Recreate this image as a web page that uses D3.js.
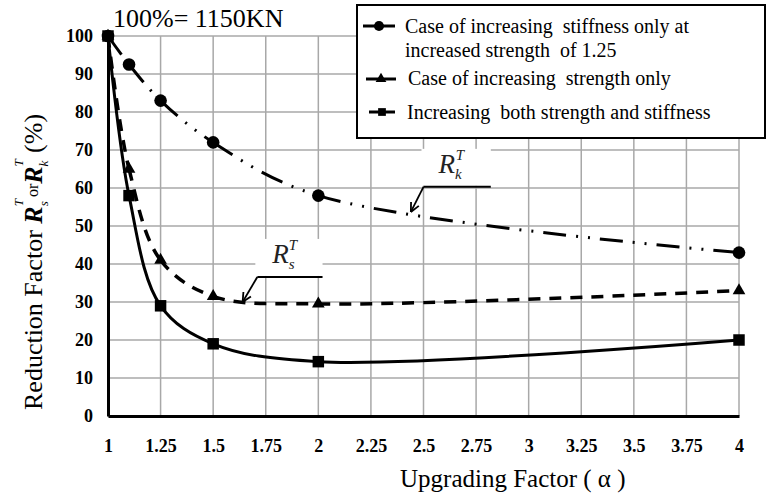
<!DOCTYPE html>
<html>
<head>
<meta charset="utf-8">
<script src="https://cdn.jsdelivr.net/npm/d3@7"></script>
<style>
  body { margin: 0; background: #fff; }
</style>
</head>
<body>
<div class="chart"></div>
<script>
// data
var alphaValues = [1, 1.1, 1.25, 1.5, 2, 4];
var stiffnessOnly = [100, 92.5, 83, 72, 58, 43];
var strengthOnly = [100, 65, 41, 31.5, 29.5, 33];
var bothIncreased = [100, 58, 29, 19, 14.3, 20];

var xTicks = [1, 1.25, 1.5, 1.75, 2, 2.25, 2.5, 2.75, 3, 3.25, 3.5, 3.75, 4];
var xTickLabels = ["1", "1.25", "1.5", "1.75", "2", "2.25", "2.5", "2.75", "3", "3.25", "3.5", "3.75", "4"];
var yTicks = [0, 10, 20, 30, 40, 50, 60, 70, 80, 90, 100];

var legendLabels = [
  ["Case of increasing  stiffness only at", "increased strength  of 1.25"],
  ["Case of increasing  strength only"],
  ["Increasing  both strength and stiffness"]
];

var serif = "'Liberation Serif', 'Times New Roman', serif";

var svgWidth = 767;
var svgHeight = 497;

var margin = {
  top: 36,
  right: 28,
  bottom: 81,
  left: 108
};

var width = svgWidth - margin.left - margin.right;
var height = svgHeight - margin.top - margin.bottom;

var svg = d3.select(".chart")
  .append("svg")
  .attr("width", svgWidth)
  .attr("height", svgHeight);

var chartGroup = svg.append("g")
  .attr("transform", `translate(${margin.left}, ${margin.top})`);

var xScale = d3.scaleLinear().domain([1, 4]).range([0, width]);
var yScale = d3.scaleLinear().domain([0, 100]).range([height, 0]);

// grid
chartGroup.selectAll(".vgrid")
  .data(xTicks)
  .enter()
  .append("line")
  .attr("x1", d => xScale(d))
  .attr("x2", d => xScale(d))
  .attr("y1", 0)
  .attr("y2", height)
  .attr("stroke", "#a8a8a8")
  .attr("stroke-width", 1.5);

chartGroup.selectAll(".hgrid")
  .data(yTicks)
  .enter()
  .append("line")
  .attr("x1", 0)
  .attr("x2", width)
  .attr("y1", d => yScale(d))
  .attr("y2", d => yScale(d))
  .attr("stroke", "#a8a8a8")
  .attr("stroke-width", 1.5);

// axes
var leftAxis = d3.axisLeft(yScale).tickValues(yTicks).tickSize(0).tickPadding(15);
var bottomAxis = d3.axisBottom(xScale).tickValues(xTicks).tickSize(0).tickPadding(23)
  .tickFormat((d, i) => xTickLabels[i]);

var yAxisG = chartGroup.append("g").call(leftAxis);
var xAxisG = chartGroup.append("g")
  .attr("transform", `translate(0, ${height})`)
  .call(bottomAxis);

[xAxisG, yAxisG].forEach(function(g) {
  g.select(".domain").attr("stroke", "#000").attr("stroke-width", 3);
  g.selectAll("text")
    .attr("font-weight", "bold")
    .attr("font-size", "18px")
    .attr("fill", "#000");
});

// annotations R_k^T and R_s^T
var annotations = [
  { sub: "k", lineX: [2.5, 2.82], lineY: 60.3, tip: [2.44, 53.7] },
  { sub: "s", lineX: [1.71, 2.02], lineY: 36.6, tip: [1.64, 30] }
];

annotations.forEach(function(a) {
  var ux0 = xScale(a.lineX[0]), ux1 = xScale(a.lineX[1]), uy = yScale(a.lineY);
  var tx = xScale(a.tip[0]), ty = yScale(a.tip[1]);
  chartGroup.append("rect")
    .attr("x", ux0 - 2)
    .attr("y", uy - 38)
    .attr("width", ux1 - ux0 + 2)
    .attr("height", 37)
    .attr("fill", "#fff");
  chartGroup.append("line")
    .attr("x1", ux0).attr("y1", uy).attr("x2", ux1).attr("y2", uy)
    .attr("stroke", "#000").attr("stroke-width", 2);
  chartGroup.append("line")
    .attr("x1", ux0).attr("y1", uy).attr("x2", tx).attr("y2", ty)
    .attr("stroke", "#000").attr("stroke-width", 1.8);
  // open arrow head
  var ang = Math.atan2(uy - ty, ux0 - tx);
  [-0.45, 0.45].forEach(function(off) {
    chartGroup.append("line")
      .attr("x1", tx).attr("y1", ty)
      .attr("x2", tx + 10 * Math.cos(ang + off))
      .attr("y2", ty + 10 * Math.sin(ang + off))
      .attr("stroke", "#000").attr("stroke-width", 1.8);
  });
  var t = chartGroup.append("text")
    .attr("x", ux0 + 15)
    .attr("y", uy - 14)
    .attr("font-style", "italic")
    .attr("fill", "#222");
  t.append("tspan").attr("font-size", "27px").text("R");
  t.append("tspan").attr("font-size", "15px").attr("dy", 6).text(a.sub);
  t.append("tspan").attr("font-size", "15px").attr("dx", -6).attr("dy", -19).text("T");
});

// series lines, dash pattern restarts at every point like the original
var seriesList = [
  { values: stiffnessOnly, dash: "23,10,2,10,2,10", lw: 3, symbol: d3.symbolCircle, size: 125 },
  { values: strengthOnly, dash: "12,9", lw: 3.5, symbol: d3.symbolTriangle, size: 70 },
  { values: bothIncreased, dash: null, lw: 3, symbol: d3.symbolSquare, size: 132 }
];

function segmentPaths(points) {
  var segs = [];
  var cur;
  var ctx = {
    moveTo: function(x, y) { cur = [x, y]; },
    lineTo: function(x, y) { segs.push(`M${cur[0]},${cur[1]}L${x},${y}`); cur = [x, y]; },
    bezierCurveTo: function(a, b, c, d, x, y) {
      segs.push(`M${cur[0]},${cur[1]}C${a},${b},${c},${d},${x},${y}`);
      cur = [x, y];
    },
    closePath: function() {}
  };
  d3.line()
    .x(d => xScale(d[0]))
    .y(d => yScale(d[1]))
    .curve(d3.curveCatmullRom.alpha(0.5))
    .context(ctx)(points);
  return segs;
}

seriesList.forEach(function(s) {
  var pts = alphaValues.map((a, i) => [a, s.values[i]]);
  chartGroup.append("g")
    .selectAll("path")
    .data(segmentPaths(pts))
    .enter()
    .append("path")
    .attr("d", d => d)
    .attr("fill", "none")
    .attr("stroke", "#000")
    .attr("stroke-width", s.lw)
    .attr("stroke-dasharray", s.dash);
});

seriesList.forEach(function(s) {
  chartGroup.append("g")
    .selectAll("path")
    .data(alphaValues.map((a, i) => [a, s.values[i]]))
    .enter()
    .append("path")
    .attr("transform", d => `translate(${xScale(d[0])}, ${yScale(d[1])})`)
    .attr("d", d3.symbol().type(s.symbol).size(s.size))
    .attr("fill", "#000");
});

// header note
svg.append("text")
  .attr("x", 113)
  .attr("y", 27)
  .attr("font-size", "26px")
  .attr("fill", "#000")
  .text("100%= 1150KN");

// axis titles
svg.append("text")
  .attr("x", 400)
  .attr("y", 487)
  .attr("font-size", "25px")
  .attr("fill", "#000")
  .style("white-space", "pre")
  .text("Upgrading Factor ( \u03b1 )");

var yTitle = svg.append("text")
  .attr("transform", "translate(42, 410) rotate(-90)")
  .attr("fill", "#000")
  .attr("font-size", "26px");
yTitle.append("tspan").text("Reduction Factor ").style("white-space", "pre");
yTitle.append("tspan").attr("font-weight", "bold").attr("font-style", "italic").text("R");
yTitle.append("tspan").attr("font-size", "13px").attr("font-style", "italic").attr("dy", 6).text("s");
yTitle.append("tspan").attr("font-size", "13px").attr("font-style", "italic").attr("dx", -5).attr("dy", -25).text("T");
yTitle.append("tspan").attr("font-size", "16px").attr("dx", 2).attr("dy", 15).text("or");
yTitle.append("tspan").attr("font-weight", "bold").attr("font-style", "italic").attr("dy", 4).text("R");
yTitle.append("tspan").attr("font-size", "13px").attr("font-style", "italic").attr("dy", 6).text("k");
yTitle.append("tspan").attr("font-size", "13px").attr("font-style", "italic").attr("dx", -6).attr("dy", -25).text("T");
yTitle.append("tspan").attr("dy", 19).style("white-space", "pre").text(" (%)");

// legend
var legend = svg.append("g");
legend.append("rect")
  .attr("x", 357)
  .attr("y", 5)
  .attr("width", 408)
  .attr("height", 133)
  .attr("fill", "#fff")
  .attr("stroke", "#000")
  .attr("stroke-width", 2);

var legendRows = [
  { y: 26, x0: 363, x1: 395, textX: 405, baselines: [33, 57], symbol: d3.symbolCircle, size: 80 },
  { y: 79, x0: 366, x1: 396, textX: 408, baselines: [85], symbol: d3.symbolTriangle, size: 50 },
  { y: 112, x0: 369, x1: 395, textX: 407, baselines: [119], symbol: d3.symbolSquare, size: 60 }
];

legendRows.forEach(function(r, i) {
  legend.append("line")
    .attr("x1", r.x0).attr("x2", r.x1).attr("y1", r.y).attr("y2", r.y)
    .attr("stroke", "#000").attr("stroke-width", 3);
  legend.append("path")
    .attr("transform", `translate(${(r.x0 + r.x1) / 2}, ${r.y})`)
    .attr("d", d3.symbol().type(r.symbol).size(r.size))
    .attr("fill", "#000");
  legendLabels[i].forEach(function(line, j) {
    legend.append("text")
      .attr("x", r.textX)
      .attr("y", r.baselines[j])
      .attr("font-size", "20px")
      .attr("fill", "#000")
      .style("white-space", "pre")
      .text(line);
  });
});

// every label in the serif face
svg.selectAll("text").style("font-family", serif);
</script>
</body>
</html>
